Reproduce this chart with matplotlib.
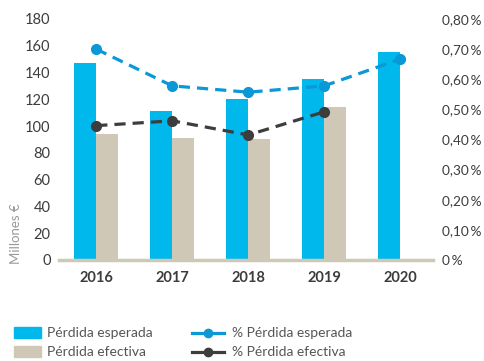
import numpy as np
import matplotlib.pyplot as plt
from matplotlib.patches import Patch
from matplotlib.lines import Line2D

plt.rcParams['font.family'] = ['Lato', 'DejaVu Sans']

# data (millones de euros / %)
years = ['2016', '2017', '2018', '2019', '2020']
perdida_esperada = [147, 111, 120, 135, 155]
perdida_efectiva = [94, 91, 90, 114, np.nan]
pct_esperada = [0.70, 0.578, 0.557, 0.578, 0.667]
pct_efectiva = [0.446, 0.462, 0.415, 0.492, np.nan]
left_ticks = [0, 20, 40, 60, 80, 100, 120, 140, 160, 180]
right_ticks = [0, 0.1, 0.2, 0.3, 0.4, 0.5, 0.6, 0.7, 0.8]

c_esp = '#00b8ec'
c_efe = '#d0c8b6'
c_line_esp = '#0a98d6'
c_line_efe = '#3d3d3d'
c_txt = '#3c3c3c'

fig = plt.figure(figsize=(4.84, 3.61), dpi=100)
ax1 = fig.add_axes([0.1219, 0.2798, 0.7727, 0.6676])
x = np.arange(len(years))
w = 0.29

ax1.bar(x - w / 2, perdida_esperada, w, color=c_esp, zorder=2)
ax1.bar(x + w / 2, perdida_efectiva, w, color=c_efe, zorder=2)
ax1.set_xlim(-0.49, 4.43)
ax1.set_ylim(0, 180)
ax1.set_yticks(left_ticks)
ax1.set_xticks(x)
ax1.set_xticklabels(years, fontweight='bold')
ax1.tick_params(axis='both', length=0, labelsize=10.5, colors=c_txt)
ax1.tick_params(axis='x', pad=8)
ax1.tick_params(axis='y', pad=6)
for d in ['top', 'left', 'right']:
    ax1.spines[d].set_visible(False)
ax1.spines['bottom'].set_color(c_efe)
ax1.spines['bottom'].set_linewidth(2.5)
ax1.spines['bottom'].set_zorder(3)
ax1.set_ylabel('Millones €', color='#999999', fontsize=9.5)
ax1.yaxis.set_label_coords(-0.1, 0.11)

ax2 = ax1.twinx()
ax2.plot(x, pct_esperada, color=c_line_esp, lw=2.3, ls=(0, (3.5, 2.2)),
         marker='o', ms=7, zorder=4)
ax2.plot(x, pct_efectiva, color=c_line_efe, lw=2.3, ls=(0, (3.5, 2.2)),
         marker='o', ms=7, zorder=4)
ax2.set_ylim(0, 0.8)
ax2.set_yticks(right_ticks)
ax2.set_yticklabels(['0\u2009%'] + [('%.2f' % v).replace('.', ',') + '\u2009%' for v in right_ticks[1:]])
ax2.tick_params(axis='y', length=0, labelsize=9.8, colors=c_txt, pad=6.5)
for d in ['top', 'left', 'right', 'bottom']:
    ax2.spines[d].set_visible(False)

# leyenda en dos bloques
h_bars = [Patch(color=c_esp), Patch(color=c_efe)]
fig.legend(h_bars, ['Pérdida esperada', 'Pérdida efectiva'], loc='upper left',
           bbox_to_anchor=(0.029, 0.093), frameon=False, fontsize=10,
           handlelength=1.95, handleheight=0.75, handletextpad=0.4,
           labelspacing=0.5, labelcolor='#555555', borderpad=0, borderaxespad=0)
h_lines = [Line2D([], [], color=c_line_esp, lw=2.3, marker='o', ms=6),
           Line2D([], [], color=c_line_efe, lw=2.3, marker='o', ms=6)]
fig.legend(h_lines, ['% Pérdida esperada', '% Pérdida efectiva'], loc='upper left',
           bbox_to_anchor=(0.397, 0.093), frameon=False, fontsize=10,
           handlelength=2.3, handletextpad=0.6,
           labelspacing=0.5, labelcolor='#555555', borderpad=0, borderaxespad=0)

fig.savefig('out.png', dpi=100)
